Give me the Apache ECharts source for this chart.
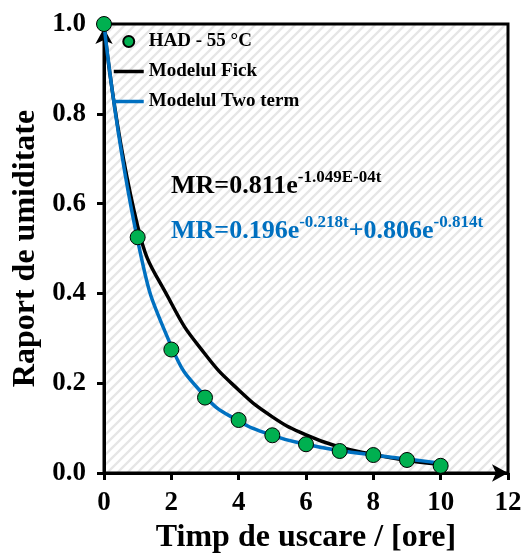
<!DOCTYPE html>
<html>
<head>
<meta charset="utf-8">
<script src="https://cdn.jsdelivr.net/npm/echarts@6/dist/echarts.min.js"></script>
<style>
  html, body { margin: 0; padding: 0; background: #fff; }
  #chart { width: 527px; height: 559px; }
</style>
</head>
<body>
<div id="chart"></div>
<script>
// Drying time in hours
const timeHours = [0, 1, 2, 3, 4, 5, 6, 7, 8, 9, 10];
// Measured moisture ratio, HAD at 55 °C
const measuredMR = [1.0, 0.525, 0.275, 0.168, 0.118, 0.084, 0.064, 0.049, 0.040, 0.029, 0.016];
// Fick model curve
const fickMR = [1.0, 0.55, 0.378, 0.265, 0.185, 0.125, 0.085, 0.058, 0.041, 0.028, 0.019];
// Two term model curve
const twoTermMR = [1.0, 0.518, 0.282, 0.171, 0.116, 0.084, 0.064, 0.050, 0.040, 0.031, 0.022];

const xTicks = [0, 2, 4, 6, 8, 10, 12];
const yTicks = [0.0, 0.2, 0.4, 0.6, 0.8, 1.0];

const seriesNames = ['HAD - 55 °C', 'Modelul Fick', 'Modelul Two term'];
const fickLabel = ['MR=0.811e', '-1.049E-04t'];
const twoTermLabel = ['MR=0.196e', '-0.218t', '+0.806e', '-0.814t'];

const FONT = '"Liberation Serif", "Times New Roman", serif';

// Diagonal hatch used as the plot background
function hatchPattern() {
  const s = 10;
  const c = document.createElement('canvas');
  c.width = s; c.height = s;
  const g = c.getContext('2d');
  g.fillStyle = '#ffffff';
  g.fillRect(0, 0, s, s);
  g.strokeStyle = '#e6e6e6';
  g.lineWidth = 2.3;
  g.beginPath();
  g.moveTo(-2, s + 2); g.lineTo(s + 2, -2);
  g.moveTo(-2, 2); g.lineTo(2, -2);
  g.moveTo(s - 2, s + 2); g.lineTo(s + 2, s - 2);
  g.stroke();
  return c;
}

const pairs = (ys) => timeHours.map((t, i) => [t, ys[i]]);

const chart = echarts.init(document.getElementById('chart'), null, { renderer: 'canvas' });

const baseRich = (color) => ({
  b: { fontFamily: FONT, fontWeight: 'bold', fontSize: 26, fill: color, lineHeight: 30, verticalAlign: 'bottom' },
  s: { fontFamily: FONT, fontWeight: 'bold', fontSize: 17, fill: color, lineHeight: 19, verticalAlign: 'top' }
});

chart.setOption({
  animation: false,
  backgroundColor: '#ffffff',
  grid: {
    left: 104, right: 19, top: 24, bottom: 84,
    show: true,
    backgroundColor: { image: hatchPattern(), repeat: 'repeat' },
    borderColor: '#000', borderWidth: 3
  },
  legend: {
    orient: 'vertical',
    left: 112, top: 32, padding: 0,
    itemWidth: 30, itemHeight: 11, itemGap: 11,
    data: [
      { name: seriesNames[0] },
      { name: seriesNames[1], itemStyle: { opacity: 0 }, lineStyle: { width: 3.5 } },
      { name: seriesNames[2], itemStyle: { opacity: 0 }, lineStyle: { width: 3.5 } }
    ],
    textStyle: { fontFamily: FONT, fontWeight: 'bold', fontSize: 19, color: '#000' }
  },
  xAxis: {
    type: 'value', min: xTicks[0], max: xTicks[xTicks.length - 1], interval: 2,
    name: 'Timp de uscare / [ore]', nameLocation: 'middle', nameGap: 49,
    nameTextStyle: { fontFamily: FONT, fontWeight: 'bold', fontSize: 32, color: '#000' },
    axisLine: { show: true, lineStyle: { color: '#000', width: 3 }, symbol: ['none', 'arrow'], symbolSize: [13, 16] },
    axisTick: { show: true, inside: false, length: 7, lineStyle: { color: '#000', width: 3 } },
    axisLabel: { margin: 17, fontFamily: FONT, fontWeight: 'bold', fontSize: 27, color: '#000' },
    splitLine: { show: false }
  },
  yAxis: {
    type: 'value', min: yTicks[0], max: yTicks[yTicks.length - 1], interval: 0.2,
    name: 'Raport de umiditate', nameLocation: 'middle', nameGap: 62,
    nameTextStyle: { fontFamily: FONT, fontWeight: 'bold', fontSize: 32, color: '#000' },
    axisLine: { show: true, lineStyle: { color: '#000', width: 3 }, symbol: ['none', 'arrow'], symbolSize: [13, 16], symbolOffset: [0, -4] },
    axisTick: { show: true, inside: false, length: 7, lineStyle: { color: '#000', width: 3 } },
    axisLabel: { margin: 18, fontFamily: FONT, fontWeight: 'bold', fontSize: 27, color: '#000', formatter: (v) => v.toFixed(1) },
    splitLine: { show: false }
  },
  series: [
    {
      name: seriesNames[1], type: 'line', data: pairs(fickMR), smooth: 0.5,
      symbol: 'none', clip: false,
      lineStyle: { color: '#000', width: 3.5 }, itemStyle: { color: '#000' }, z: 3
    },
    {
      name: seriesNames[2], type: 'line', data: pairs(twoTermMR), smooth: 0.5,
      symbol: 'none', clip: false,
      lineStyle: { color: '#0070C0', width: 3.5 }, itemStyle: { color: '#0070C0' }, z: 4
    },
    {
      name: seriesNames[0], type: 'scatter', data: pairs(measuredMR),
      symbol: 'circle', symbolSize: 15, clip: false,
      itemStyle: { color: '#00B050', borderColor: '#000', borderWidth: 1, opacity: 1 }, z: 5
    }
  ],
  graphic: [
    {
      type: 'text', left: 171, top: 169, z: 10,
      style: { text: '{b|' + fickLabel[0] + '}{s|' + fickLabel[1] + '}', rich: baseRich('#000') }
    },
    {
      type: 'text', left: 171, top: 214, z: 10,
      style: {
        text: '{b|' + twoTermLabel[0] + '}{s|' + twoTermLabel[1] + '}{b|' + twoTermLabel[2] + '}{s|' + twoTermLabel[3] + '}',
        rich: baseRich('#0070C0')
      }
    }
  ]
});
</script>
</body>
</html>
